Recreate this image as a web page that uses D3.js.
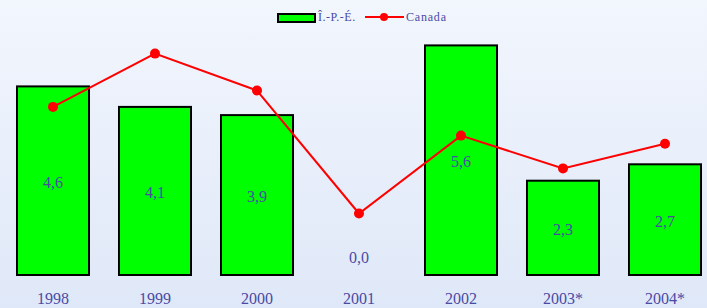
<!DOCTYPE html>
<html><head><meta charset="utf-8">
<script src="https://cdn.jsdelivr.net/npm/d3@7"></script>
<style>html,body{margin:0;padding:0;}svg{display:block;}</style>
</head><body>
<script>
const categories = ["1998","1999","2000","2001","2002","2003*","2004*"];
const ipeValues = [4.6, 4.1, 3.9, 0.0, 5.6, 2.3, 2.7];
const canadaValues = [4.1, 5.4, 4.5, 1.5, 3.4, 2.6, 3.2];
const valueLabels = ["4,6","4,1","3,9","0,0","5,6","2,3","2,7"];
const legendLabels = ["Î.-P.-É.", "Canada"];

const W = 707, H = 308;
const svg = d3.select("body").append("svg").attr("width", W).attr("height", H);
const defs = svg.append("defs");
const grad = defs.append("linearGradient").attr("id","bg").attr("x1",0).attr("y1",0).attr("x2",0).attr("y2",1);
grad.append("stop").attr("offset","0%").attr("stop-color","#f2f6fd");
grad.append("stop").attr("offset","100%").attr("stop-color","#dfe8f8");
svg.append("rect").attr("width",W).attr("height",H).attr("fill","url(#bg)");

const x = d3.scaleBand().domain(categories).range([2, 716]).paddingInner(30/102).paddingOuter(15/102);
const y = d3.scaleLinear().domain([0, 6]).range([275, 275 - 6*41]);

const textColor = "#4a4aa4";
const font = "'Liberation Serif','DejaVu Serif',serif";

// bars
svg.selectAll("rect.bar").data(ipeValues).join("rect").attr("class","bar")
  .attr("x",(d,i)=>x(categories[i]))
  .attr("y",d=>y(d))
  .attr("width",x.bandwidth())
  .attr("height",d=>y(0)-y(d))
  .attr("fill","#00ff00").attr("stroke","#000").attr("stroke-width",2)
  .attr("display",d=>d>0?null:"none");

// bar labels
svg.selectAll("text.vl").data(ipeValues).join("text").attr("class","vl")
  .attr("x",(d,i)=>x(categories[i])+x.bandwidth()/2)
  .attr("y",d=> d>0 ? (y(d)+y(0))/2 + 7 : y(0)-12)
  .attr("text-anchor","middle").attr("font-family",font).attr("font-size",16)
  .attr("fill",textColor).text((d,i)=>valueLabels[i]);

// canada line
const cx = (d,i)=>x(categories[i])+x.bandwidth()/2;
const line = d3.line().x(cx).y(d=>y(d));
svg.append("path").datum(canadaValues).attr("d",line).attr("fill","none").attr("stroke","#ff0000").attr("stroke-width",2);
svg.selectAll("circle.pt").data(canadaValues).join("circle").attr("class","pt")
  .attr("cx",cx).attr("cy",d=>y(d)).attr("r",5).attr("fill","#ff0000");

// x axis labels
const xAxis = d3.axisBottom(x).tickSize(0).tickPadding(0);
const gx = svg.append("g").attr("transform","translate(0,293)").call(xAxis);
gx.select(".domain").remove();
gx.selectAll("text").attr("font-family",font).attr("font-size",16).attr("fill",textColor).attr("dy","0.71em");

// legend
const lg = svg.append("g");
lg.append("rect").attr("x",278).attr("y",14).attr("width",37).attr("height",8).attr("fill","#00ff00").attr("stroke","#000").attr("stroke-width",2);
lg.append("text").attr("x",318).attr("y",21).attr("font-family",font).attr("font-size",12).attr("fill",textColor).attr("letter-spacing",0.5).text(legendLabels[0]);
lg.append("line").attr("x1",365).attr("x2",404).attr("y1",17).attr("y2",17).attr("stroke","#ff0000").attr("stroke-width",2);
lg.append("circle").attr("cx",384).attr("cy",17).attr("r",4).attr("fill","#ff0000");
lg.append("text").attr("x",406).attr("y",21).attr("font-family",font).attr("font-size",12).attr("fill",textColor).attr("letter-spacing",0.8).text(legendLabels[1]);
</script>
</body></html>
